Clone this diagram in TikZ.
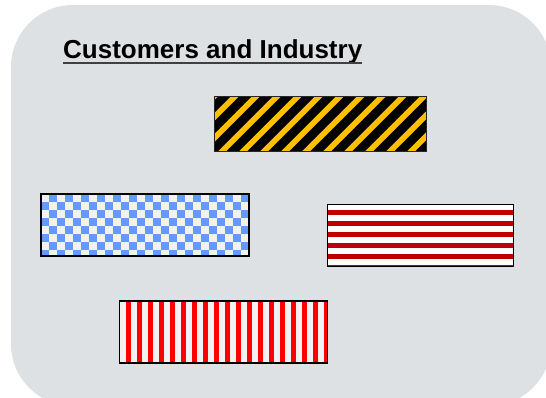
\documentclass[tikz,border=0pt]{standalone}
\usepackage{fontspec}
\setmainfont{Liberation Sans}
\definecolor{panelgray}{RGB}{222,225,227}
\definecolor{hazyellow}{RGB}{255,192,0}
\definecolor{checkblue}{RGB}{102,153,255}
\definecolor{palegray}{RGB}{242,242,242}
\definecolor{darkred}{RGB}{192,0,0}
\definecolor{brightred}{RGB}{255,0,0}
\begin{document}
\begin{tikzpicture}[x=1pt,y=-1pt,
  patbox/.style={rectangle, anchor=north west, inner sep=0pt, outer sep=0pt, draw=black, line width=1.5pt}]
\useasboundingbox (0,0) rectangle (546,398);
\clip (0,0) rectangle (546,398);
\fill [panelgray, rounded corners=62pt] (11,5) rectangle (551,406);
% title
\node [anchor=base west, inner sep=0pt, font=\bfseries\fontsize{26}{30}\selectfont] (title) at (63,59) {Customers and Industry};
\draw [line width=1.6pt, black!75] ([yshift=-4.3pt]title.base west) -- ([yshift=-4.3pt]title.base east);
% yellow and black diagonal box (pattern coordinates from the box centre)
\node [patbox, draw=black!85, line width=1pt, fill=black, minimum width=212.7pt, minimum height=55.4pt,
  path picture={
    \foreach \k in {0,...,13} {\fill [hazyellow] ({-110.4+\k*21},-27.7) -- ++(8,0) -- ++(-56,56) -- ++(-8,0) -- cycle;}
  }] (hazard) at (214,96.3) {};
% blue checker box
\node [patbox, fill=palegray, minimum width=208pt, minimum height=62pt,
  path picture={
    \foreach \c in {0,...,25} {
      \foreach \r in {0,...,7} {
        \pgfmathtruncatemacro\odd{mod(\c+\r,2)}
        \ifnum\odd=1 \fill [checkblue] ({-104+\c*8},{-31+\r*8}) rectangle ++(8,8); \fi
      }
    }
  }] (checker) at (41,194) {};
% dark red horizontal stripes
\node [patbox, fill=white, minimum width=185.6pt, minimum height=62.4pt,
  path picture={
    \foreach \k in {0,...,5} {\fill [darkred] (-93,{-25.5+\k*11}) rectangle ++(186,5.3);}
  }] (hstripes) at (327.7,204.3) {};
% red vertical stripes
\node [patbox, fill=palegray, minimum width=208pt, minimum height=62pt,
  path picture={
    \foreach \k in {0,...,18} {\fill [brightred] ({-97.7+\k*11},-31) rectangle ++(5,62);}
  }] (vstripes) at (119.7,301) {};
\end{tikzpicture}
\end{document}
